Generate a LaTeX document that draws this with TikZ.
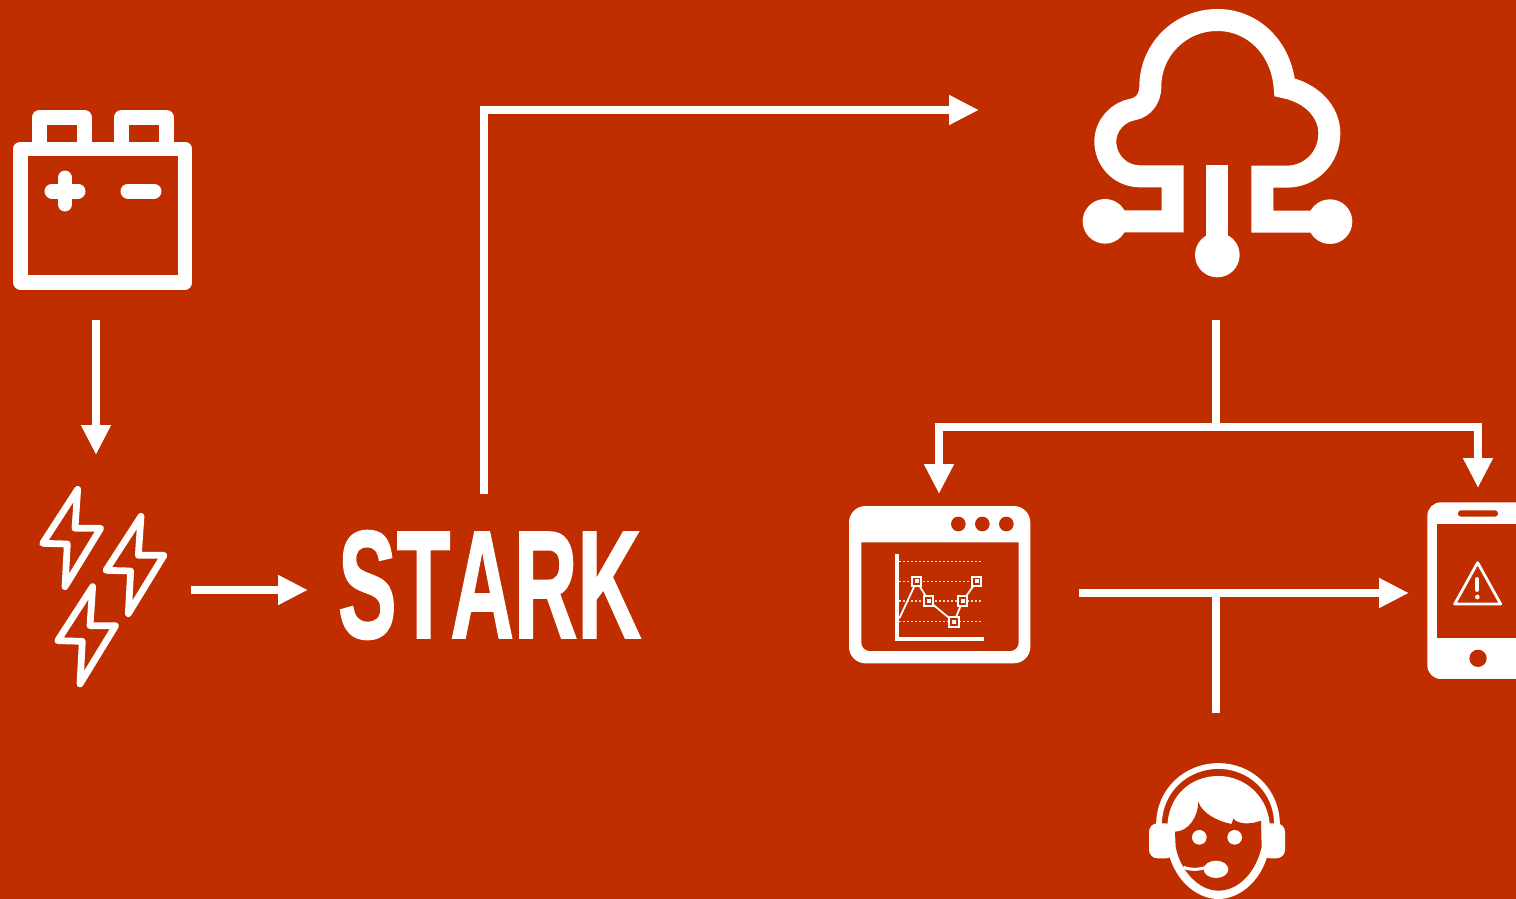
\documentclass[tikz,border=0pt]{standalone}
\usepackage{graphicx,fontspec}
\usepackage{tikz}
\usetikzlibrary{arrows.meta}
\newfontfamily\starkfont[Kerning=Off,BoldFeatures={FakeBold=1.4}]{Liberation Sans}
\definecolor{stkred}{HTML}{C02E00}

\begin{document}
\begin{tikzpicture}[x=0.02cm,y=-0.02cm,>={Triangle[length=0.6cm,width=0.56cm]},
    link/.style={draw=white,line width=0.15cm},
    inkline/.style={draw=white,line join=round,line cap=round}]
  \useasboundingbox (0,0) rectangle (1516,899);
  \clip (0,0) rectangle (1516,899);
  \fill[stkred] (0,0) rectangle (1516,899);

  % ends of the connectors
  \coordinate (batout) at (96,320);
  \coordinate (boltin) at (96,455);
  \coordinate (boltout) at (191,590);
  \coordinate (starkin) at (308,590);
  \coordinate (starkout) at (484,494);
  \coordinate (cloudin) at (979,110);
  \coordinate (cloudout) at (1216,320);
  \coordinate (fork) at (1216,427);
  \coordinate (webin) at (939,494);
  \coordinate (phonein) at (1478,488);
  \coordinate (webout) at (1079,593);
  \coordinate (phoneside) at (1409,593);
  \coordinate (join) at (1216,593);
  \coordinate (agentout) at (1216,713);

  \draw[link,->] (batout)--(boltin);
  \draw[link,->] (boltout)--(starkin);
  \draw[link,->] (starkout)|-(cloudin);
  \draw[link] (cloudout)--(fork);
  \draw[link,->] (fork)-|(webin);
  \draw[link,->] (fork)-|(phonein);
  \draw[link,->] (webout)--(phoneside);
  \draw[link] (agentout)--(join);

  % battery
  \begin{scope}[inkline,line width=0.3cm]
    \draw (20.5,149) rectangle (185,282);
    \draw (39.5,142)--(39.5,117.5)--(84.5,117.5)--(84.5,142);
    \draw (121.5,142)--(121.5,117.5)--(166.5,117.5)--(166.5,142);
    \draw (52,191)--(78,191) (65,178)--(65,204);
    \draw (128,191)--(154,191);
  \end{scope}

  % bolts
  \begin{scope}[shift={(30,480)},x=0.00667cm,y=-0.00667cm]
    \foreach \dx/\dy in {0/0,190/81,45/292} {
      \draw[inkline,line width=0.135cm,shift={(\dx,\dy)}]
        (143,28)--(38,190)--(112,192)--(105,320)--(212,145)--(135,145)--cycle;
    }
  \end{scope}

  % logo
  \node[inner sep=0pt,text=white] (stark) at (489.5,585)
    {\resizebox{6.06cm}{2.14cm}{\starkfont\bfseries STARK}};

  % cloud
  \begin{scope}[shift={(1070,0)},x=0.00667cm,y=-0.00667cm]
    \draw[draw=white,line width=0.44cm]
      (105,664)--(308,664)--(308,529)--(210,529)
      .. controls (150,529) and (106,480) .. (106,425)
      .. controls (106,375) and (145,335) .. (190,328)
      .. controls (220,322) and (241,295) .. (241,260)
      .. controls (241,150) and (330,60) .. (442,60)
      .. controls (550,60) and (635,145) .. (644,262)
      .. controls (725,278) and (778,335) .. (778,400)
      .. controls (778,475) and (720,530) .. (650,530)
      --(577,530)--(577,665)--(780,665);
    \draw[draw=white,line width=0.44cm] (442,495)--(442,765);
    \fill[white] (105,664) circle (67) (780,665) circle (67) (442,765) circle (67);
  \end{scope}

  % web window
  \begin{scope}[shift={(840,500)},x=0.00667cm,y=-0.00667cm]
    \fill[white,rounded corners=0.33cm] (27,18) rectangle (571,490);
    \fill[stkred] (64,127) [rounded corners=0.17cm] --(64,453)--(536,453) [sharp corners] --(536,127)--cycle;
    \foreach \x in {355,427,499} {
      \fill[stkred] (\x,72) circle (22);
    }
    \foreach \y in {185,244,303,365} {
      \draw[white!80!stkred,line width=0.025cm,dash pattern=on 0.04cm off 0.04cm] (178,\y)--(425,\y);
    }
    \draw[white,line width=0.085cm] (171,163)--(171,416)--(431,416);
    \draw[white,line width=0.035cm] (178,355)--(230,244)--(266,303)--(342,366)--(368,303)--(410,244);
    \foreach \x/\y in {230/244,266/303,342/366,368/303,410/244} {
      \fill[white] (\x-17,\y-17) rectangle (\x+17,\y+17);
      \fill[stkred] (\x-11,\y-11) rectangle (\x+11,\y+11);
      \fill[white] (\x-6,\y-6) rectangle (\x+6,\y+6);
    }
  \end{scope}

  % phone
  \begin{scope}[shift={(1416,495)},x=0.00667cm,y=-0.00667cm]
    \fill[white,rounded corners=0.27cm] (34,22) rectangle (400,552);
    \fill[stkred] (64,88) rectangle (400,430);
    \fill[stkred,rounded corners=0.06cm] (126,46) rectangle (246,65);
    \fill[stkred] (186,490) circle (26);
    \draw[inkline,line width=0.055cm] (185,203)--(116,327)--(254,327)--cycle;
    \draw[inkline,line width=0.075cm] (184,252)--(184,285);
    \fill[white] (184,306) circle (7);
  \end{scope}

  % agent
  \begin{scope}[shift={(1130,750)},x=0.00667cm,y=-0.00667cm]
    \draw[draw=white,line width=0.115cm] (87,225) .. controls (87,120) and (170,48) .. (265,48)
      .. controls (360,48) and (441,120) .. (441,225);
    \fill[white,rounded corners=0.17cm] (57,220) rectangle (133,325);
    \fill[white,rounded corners=0.17cm] (395,220) rectangle (465,325);
    \fill[white] (112,235) .. controls (112,140) and (180,78) .. (265,78)
      .. controls (345,78) and (418,140) .. (420,235)--(410,325)
      .. controls (385,400) and (325,447) .. (265,447)
      .. controls (205,447) and (145,400) .. (120,325)--cycle;
    \fill[stkred] (135,245) .. controls (175,245) and (205,200) .. (205,155)
      .. controls (215,190) and (265,215) .. (305,222)--(310,205)
      .. controls (320,222) and (360,225) .. (393,212)--(395,290)
      .. controls (380,360) and (330,422) .. (265,422)
      .. controls (205,422) and (150,360) .. (137,290)--cycle;
    \fill[white] (208,262) circle (22) (314,262) circle (22);
    \draw[draw=white,line width=0.06cm] (160,352) .. controls (190,362) and (210,358) .. (235,350);
    \fill[white] (258,358) ellipse (37 and 26);
  \end{scope}
\end{tikzpicture}
\end{document}
